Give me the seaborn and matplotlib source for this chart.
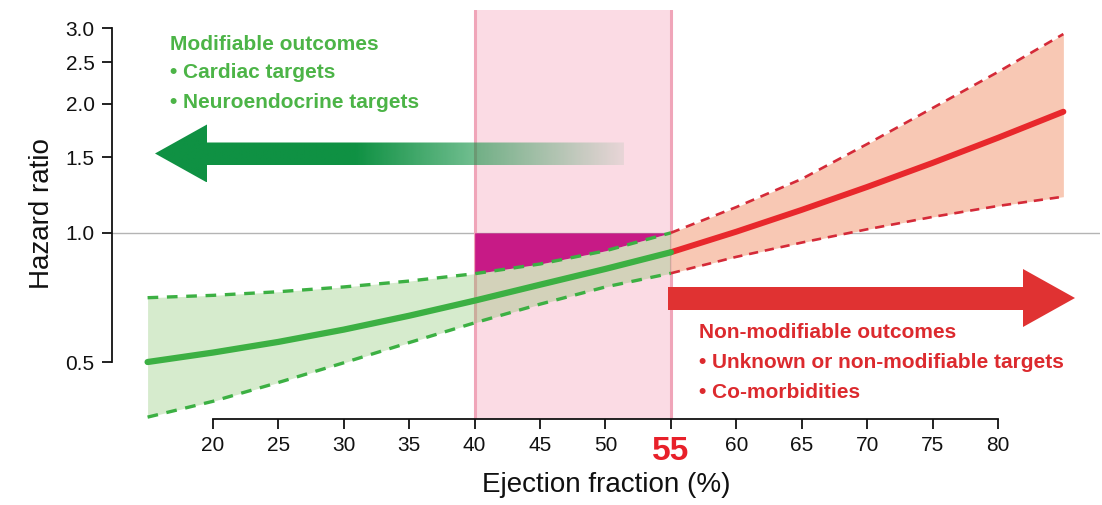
import numpy as np
import pandas as pd
import matplotlib
matplotlib.use("Agg")
import matplotlib.pyplot as plt
import seaborn as sns
from matplotlib.patches import Polygon

# ---------------- data ----------------
ef_mod = [15, 20, 25, 30, 35, 40, 45, 50, 55]
hr_mod = [0.500, 0.526, 0.557, 0.595, 0.641, 0.695, 0.757, 0.824, 0.901]
lo_mod = [0.372, 0.405, 0.448, 0.498, 0.555, 0.617, 0.682, 0.748, 0.805]
hi_mod = [0.706, 0.715, 0.729, 0.748, 0.772, 0.803, 0.846, 0.908, 1.000]

ef_non = [55, 60, 65, 70, 75, 80, 85]
hr_non = [0.901, 1.006, 1.131, 1.279, 1.455, 1.665, 1.915]
lo_non = [0.805, 0.879, 0.949, 1.019, 1.089, 1.155, 1.214]
hi_non = [1.000, 1.148, 1.335, 1.610, 1.953, 2.370, 2.905]

x_ticks = [20, 25, 30, 35, 40, 45, 50, 55, 60, 65, 70, 75, 80]
x_tick_labels = [str(v) for v in x_ticks]
y_ticks = [0.5, 1.0, 1.5, 2.0, 2.5, 3.0]
y_tick_labels = ["0.5", "1.0", "1.5", "2.0", "2.5", "3.0"]
zone = (40, 55)
ref_hr = 1.0
highlight_tick = "55"
mod_text = ["Modifiable outcomes", "\u2022 Cardiac targets", "\u2022 Neuroendocrine targets"]
non_text = ["Non-modifiable outcomes", "\u2022 Unknown or non-modifiable targets", "\u2022 Co-morbidities"]

# ---------------- style ----------------
sns.set_style("ticks")
plt.rcParams["font.family"] = ["Liberation Sans", "DejaVu Sans"]

GREEN = "#3cb043"
GREEN_TXT = "#4cb447"
GREEN_ARROW = (15 / 255, 145 / 255, 67 / 255)
RED = "#e8282c"
RED_DASH = "#d42a38"
RED_TXT = "#dc2a2e"
PINK = "#fbdbe4"
PINK_EDGE = "#f0a5b9"
MAGENTA = "#c71a86"

W, H = 1102, 505
fig = plt.figure(figsize=(W / 100, H / 100), dpi=100)
AX_L, AX_R, AX_T, AX_B = 112, 1100, 10, 419
ax = fig.add_axes([AX_L / W, (H - AX_B) / H, (AX_R - AX_L) / W, (AX_B - AX_T) / H])
ax.set_yscale("log")

def axp(px, py):
    return ((px - AX_L) / (AX_R - AX_L), (AX_B - py) / (AX_B - AX_T))

# shaded zone
ax.axvspan(zone[0], zone[1], facecolor=PINK, edgecolor="none", zorder=0)
for z in zone:
    ax.axvline(z, color=PINK_EDGE, lw=2.2, zorder=0.6)
ax.axhline(ref_hr, color="#b4b4b4", lw=1.0, zorder=0.5)

df_mod = pd.DataFrame({"ef": ef_mod, "hr": hr_mod, "lo": lo_mod, "hi": hi_mod})
df_non = pd.DataFrame({"ef": ef_non, "hr": hr_non, "lo": lo_non, "hi": hi_non})

dz = df_mod[(df_mod.ef >= zone[0]) & (df_mod.ef <= zone[1])]
ax.fill_between(dz.ef, dz.hi, ref_hr, color=MAGENTA, lw=0, zorder=1)

ax.fill_between(df_mod.ef, df_mod.lo, df_mod.hi, color=(120 / 255, 190 / 255, 90 / 255),
                alpha=0.30, lw=0, zorder=2)
ax.fill_between(df_non.ef, df_non.lo, df_non.hi, color="#f8c8b4", lw=0, zorder=2)

for col in ("lo", "hi"):
    sns.lineplot(data=df_mod, x="ef", y=col, ax=ax, color=GREEN, lw=2.4,
                 zorder=4).lines[-1].set_dashes((3.2, 2.6))
    sns.lineplot(data=df_non, x="ef", y=col, ax=ax, color=RED_DASH, lw=1.9,
                 zorder=4).lines[-1].set_dashes((3.5, 2.6))
sns.lineplot(data=df_non, x="ef", y="hr", ax=ax, color=RED, lw=4.3, zorder=5,
             solid_capstyle="round", solid_joinstyle="round")
sns.lineplot(data=df_mod, x="ef", y="hr", ax=ax, color=GREEN, lw=4.5, zorder=5,
             solid_capstyle="round", solid_joinstyle="round")

# ---------------- arrows ----------------
g_pts = [(155, 153.5), (207, 124.5), (207, 142.5), (624, 142.5), (624, 165),
         (207, 165), (207, 182.5)]
g_poly = Polygon([axp(*p) for p in g_pts], closed=True, transform=ax.transAxes,
                 facecolor="none", edgecolor="none")
ax.add_patch(g_poly)
ncol = 400
xs = np.linspace(155, 624, ncol)
alpha = np.clip(1 - (xs - 357) / (624 - 357) * 0.92, 0.08, 1.0)
img = np.zeros((2, ncol, 4))
img[..., 0] = GREEN_ARROW[0]
img[..., 1] = GREEN_ARROW[1]
img[..., 2] = GREEN_ARROW[2]
img[..., 3] = alpha[None, :]
x0, y0 = axp(155, 182.5)
x1, y1 = axp(624, 124.5)
im = ax.imshow(img, extent=(x0, x1, y0, y1), transform=ax.transAxes, aspect="auto",
               interpolation="bilinear", zorder=3)
im.set_clip_path(g_poly)

r_pts = [(668, 287), (1023, 287), (1023, 269), (1075, 298), (1023, 327), (1023, 310),
         (668, 310)]
ax.add_patch(Polygon([axp(*p) for p in r_pts], closed=True, transform=ax.transAxes,
                     facecolor="#e03232", edgecolor="none", zorder=3))

# ---------------- axes ----------------
ax.set_xlim(12.28, 87.80)
ax.set_ylim(0.3683, 3.305)
ax.set_xticks(x_ticks)
ax.set_xticklabels(x_tick_labels)
ax.set_yticks(y_ticks)
ax.set_yticklabels(y_tick_labels)
ax.yaxis.set_minor_locator(matplotlib.ticker.NullLocator())
for s in ("top", "right"):
    ax.spines[s].set_visible(False)
ax.spines["bottom"].set_bounds(x_ticks[0], x_ticks[-1])
ax.spines["left"].set_bounds(y_ticks[0], y_ticks[-1])
for s in ("bottom", "left"):
    ax.spines[s].set_linewidth(1.3)
    ax.spines[s].set_color("#111111")
ax.tick_params(axis="both", length=7.5, width=1.3, color="#111111", labelsize=15,
               labelcolor="#111111", pad=5)
for lab in ax.get_xticklabels():
    if lab.get_text() == highlight_tick:
        lab.set_color("#e8202a")
        lab.set_fontsize(24)
        lab.set_fontweight("bold")

ax.set_xlabel("Ejection fraction (%)", fontsize=20, color="#111111")
ax.xaxis.set_label_coords(0.5, axp(0, 472)[1])
ax.set_ylabel("Hazard ratio", fontsize=20, color="#111111")
ax.yaxis.set_label_coords(axp(55, 0)[0], axp(0, 214)[1])

# ---------------- texts ----------------
for i, t in enumerate(mod_text):
    fig.text(170 / W, 1 - (44 + 29 * i) / H, t, color=GREEN_TXT, fontsize=15,
             fontweight="bold", va="center", ha="left")
for i, t in enumerate(non_text):
    fig.text(699 / W, 1 - (332 + 30 * i) / H, t, color=RED_TXT, fontsize=15,
             fontweight="bold", va="center", ha="left")

fig.savefig("out.png", dpi=100)
